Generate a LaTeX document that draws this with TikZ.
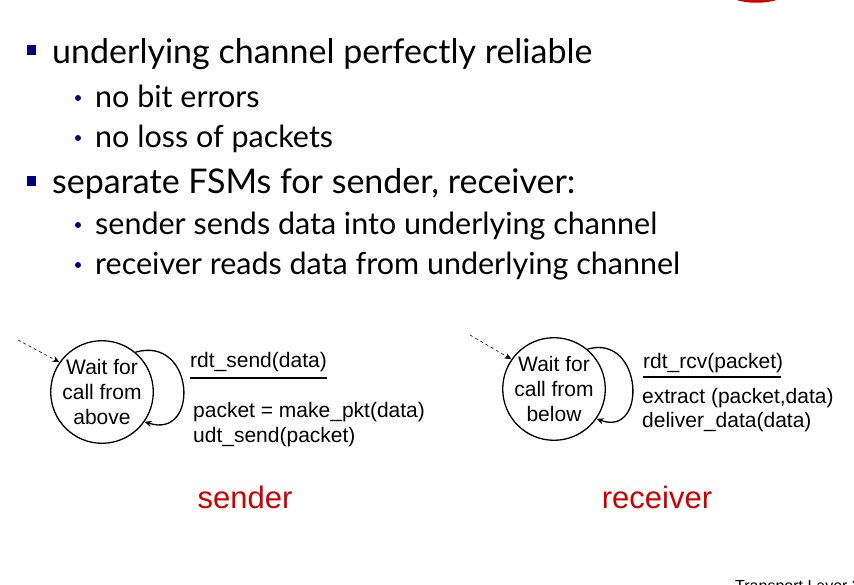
\documentclass[tikz,border=0pt]{standalone}
\usepackage{fontspec}
\setmainfont{Lato}
\newfontfamily\arialf{Liberation Sans}
\usetikzlibrary{arrows.meta}
\definecolor{bulletblue}{HTML}{00007F}
\definecolor{slidered}{HTML}{CC0000}
\begin{document}
\begin{tikzpicture}[x=1pt,y=-1pt,
  lvlone/.style={anchor=base west, inner sep=0pt, font=\fontsize{34}{40}\selectfont},
  lvltwo/.style={anchor=base west, inner sep=0pt, font=\fontsize{30.5}{36}\selectfont},
  sqbullet/.style={fill=bulletblue},
  rdbullet/.style={fill=bulletblue},
  state/.style={circle, draw, line width=1.3pt, minimum size=100pt, inner sep=0pt, align=center,
    font=\arialf\fontsize{21}{25}\selectfont},
  lab/.style={anchor=base west, inner sep=0pt, font=\arialf\fontsize{21}{25}\selectfont},
  loopline/.style={line width=1.3pt, -{Stealth[length=7pt,width=6pt]}},
  initarrow/.style={dashed, line width=0.6pt, -{Stealth[length=7pt,width=6pt]}},
  rolename/.style={anchor=base, inner sep=0pt, text=slidered, font=\arialf\fontsize{31}{37}\selectfont},
]
\useasboundingbox (0,0) rectangle (854,585);
\clip (0,0) rectangle (854,585);

% decoration at top
\fill[slidered] (733,-1) .. controls (748,4) and (765,4) .. (780,-1) -- cycle;

% bullets
\fill[sqbullet] (27,45) rectangle (36,55);
\node[lvlone] (t1) at (52,64) {underlying channel perfectly reliable};
\fill[rdbullet] (78,98) circle (3);
\node[lvltwo] (t2) at (95,108) {no bit errors};
\fill[rdbullet] (78,138) circle (3);
\node[lvltwo] (t3) at (95,148) {no loss of packets};
\fill[sqbullet] (27,176) rectangle (36,186);
\node[lvlone] (t4) at (52,194) {separate FSMs for sender, receiver:};
\fill[rdbullet] (78,225) circle (3);
\node[lvltwo] (t5) at (95,235) {sender sends data into underlying channel};
\fill[rdbullet] (78,265) circle (3);
\node[lvltwo] (t6) at (95,275) {receiver reads data from underlying channel};

% sender FSM
\node[state] (s) at (102,392) {Wait for\\call from\\above};
\coordinate (sinit) at (18,340);
\draw[initarrow] (sinit) -- (s.145);
\draw[loopline] (s.50) .. controls (195,335) and (200,440) .. (s.-35);
\node[lab] (sev) at (190,367) {rdt\_send(data)};
\coordinate (sl1) at (190,378);
\coordinate (sl2) at (327,378);
\draw[line width=1.2pt] (sl1) -- (sl2);
\node[lab] (sa1) at (193,417) {packet = make\_pkt(data)};
\node[lab] (sa2) at (193,442) {udt\_send(packet)};
\node[rolename] (sn) at (245,508) {sender};

% receiver FSM
\node[state, minimum size=98pt] (r) at (554,389) {Wait for\\call from\\below};
\coordinate (rinit) at (470,335);
\draw[initarrow] (rinit) -- (r.145);
\draw[loopline] (r.50) .. controls (643,333) and (648,438) .. (r.-35);
\node[lab] (rev) at (643,368) {rdt\_rcv(packet)};
\coordinate (rl1) at (643,377);
\coordinate (rl2) at (781,377);
\draw[line width=1.2pt] (rl1) -- (rl2);
\node[lab] (ra1) at (642,403) {extract (packet,data)};
\node[lab] (ra2) at (642,427) {deliver\_data(data)};
\node[rolename] (rn) at (657,508) {receiver};

% footer
\node[anchor=base west, inner sep=0pt, font=\arialf\fontsize{16}{19}\selectfont] (foot) at (735,591) {Transport Layer 3-};
\end{tikzpicture}
\end{document}
